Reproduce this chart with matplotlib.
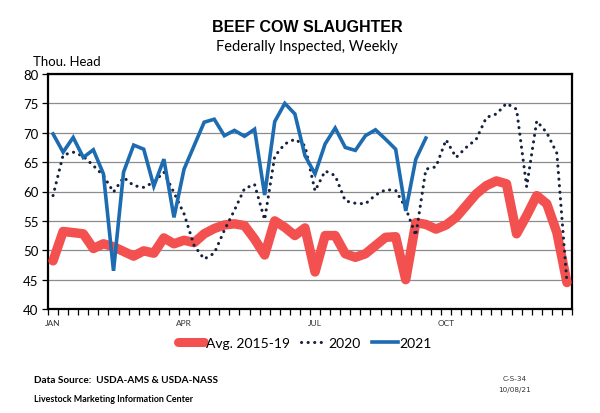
import numpy as np
import matplotlib
matplotlib.use("Agg")
import matplotlib.pyplot as plt
from matplotlib.lines import Line2D

weeks = list(range(1, 53))
month_labels = ["JAN", "APR", "JUL", "OCT"]
month_weeks = [1, 14, 27, 40]

avg_2015_19 = [48.2, 53.2, 53.0, 52.8, 50.3, 51.1, 50.6, 49.8, 49.0, 49.9,
               49.5, 52.1, 51.1, 51.7, 51.3, 52.8, 53.7, 54.3, 54.5, 54.2,
               51.9, 49.2, 55.0, 53.9, 52.5, 53.8, 46.3, 52.5, 52.5, 49.4,
               48.8, 49.4, 50.8, 52.2, 52.3, 45.0, 54.7, 54.4, 53.6, 54.3,
               55.6, 57.6, 59.6, 61.0, 61.8, 61.3, 52.8, 55.9, 59.3, 57.9,
               53.0, 44.5]

y2020 = [59.3, 66.2, 66.7, 66.0, 64.4, 62.7, 59.9, 62.4, 61.0, 60.7,
         61.6, 63.3, 59.8, 56.2, 50.8, 48.5, 49.5, 53.4, 56.8, 60.5,
         61.2, 55.2, 66.0, 68.1, 68.9, 67.8, 60.1, 63.5, 62.7, 58.4,
         58.0, 57.9, 59.4, 60.3, 60.2, 57.2, 52.5, 63.8, 64.2, 68.8,
         65.8, 67.5, 68.9, 72.6, 73.2, 75.0, 74.0, 60.8, 72.0, 70.0,
         66.5, 44.5]

y2021 = [69.8, 66.7, 69.2, 65.8, 67.1, 63.0, 46.5, 63.3, 67.9, 67.2,
         60.9, 65.5, 55.6, 63.8, 67.8, 71.8, 72.3, 69.5, 70.4, 69.4,
         70.6, 59.4, 71.9, 75.0, 73.2, 66.1, 63.0, 68.1, 70.8, 67.5,
         67.0, 69.5, 70.5, 68.9, 67.2, 56.7, 65.5, 69.1]

y_ticks = [40, 45, 50, 55, 60, 65, 70, 75, 80]

RED = "#f25150"
BLUE = "#1d6bb0"
NAVY = "#15213d"
FONT = "Lato"

fig = plt.figure(figsize=(6.0, 4.14), dpi=100)
ax = fig.add_axes([48/600, 1-310/414, (572-48)/600, (310-75)/414])

ax.plot(weeks, avg_2015_19, color=RED, lw=6.8, solid_joinstyle="round",
        solid_capstyle="round", zorder=3)
ax.plot(weeks, y2020, color=NAVY, lw=2.2, linestyle=(0, (0.05, 2.1)),
        dash_capstyle="round", zorder=4)
ax.plot(weeks[:len(y2021)], y2021, color=BLUE, lw=2.6,
        solid_joinstyle="miter", zorder=5)

ax.set_xlim(0.5, 52.5)
ax.set_ylim(40, 80)
ax.set_yticks(y_ticks)
ax.set_yticklabels([str(v) for v in y_ticks], fontfamily=FONT, fontsize=9.5)
ax.yaxis.grid(True, color="#8c8c8c", lw=0.9)
ax.set_axisbelow(True)

ax.set_xticks(month_weeks)
ax.set_xticklabels(month_labels, fontfamily=FONT, fontsize=6, color="#333333")
ax.set_xticks(np.arange(0.5, 53, 1), minor=True)
ax.tick_params(axis="x", which="major", length=0, pad=7)
ax.tick_params(axis="x", which="minor", length=4, width=0.9, direction="out")
ax.tick_params(axis="y", length=4, width=0.9, direction="out", pad=3)

for s in ax.spines.values():
    s.set_linewidth(1.6)
    s.set_color("black")

fig.text(307/600, 1-28/414, "BEEF COW SLAUGHTER", ha="center", va="center",
         fontfamily="Liberation Sans", fontweight="bold", fontsize=11.5)
fig.text(307/600, 1-47/414, "Federally Inspected, Weekly", ha="center",
         va="center", fontfamily=FONT, fontsize=10.5)
fig.text(33/600, 1-62/414, "Thou. Head", ha="left", va="center",
         fontfamily=FONT, fontsize=9.5)

handles = [
    Line2D([], [], color=RED, lw=6.5, solid_capstyle="round"),
    Line2D([], [], color=NAVY, lw=2.2, linestyle=(0, (0.05, 2.1)),
           dash_capstyle="round"),
    Line2D([], [], color=BLUE, lw=2.6),
]
fig.legend(handles, ["Avg. 2015-19", "2020", "2021"], loc="center",
           bbox_to_anchor=(305/600, 1-344/414), ncol=3, frameon=False,
           prop={"family": FONT, "size": 10}, handlelength=1.9,
           handletextpad=0.1, columnspacing=0.8)

fig.text(34/600, 1-381/414, "Data Source:  USDA-AMS & USDA-NASS", ha="left",
         va="center", fontfamily=FONT, fontweight="bold", fontsize=7.2)
fig.text(34/600, 1-400/414, "Livestock Marketing Information Center",
         ha="left", va="center", fontfamily=FONT, fontweight="bold",
         fontsize=6.4)
fig.text(515/600, 1-379/414, "C-S-34", ha="center", va="center",
         fontfamily="Liberation Sans Narrow", fontsize=5.2, color="#333333")
fig.text(515/600, 1-390/414, "10/08/21", ha="center", va="center",
         fontfamily="Liberation Sans Narrow", fontsize=5.2, color="#333333")

fig.savefig("out.png", dpi=100)
